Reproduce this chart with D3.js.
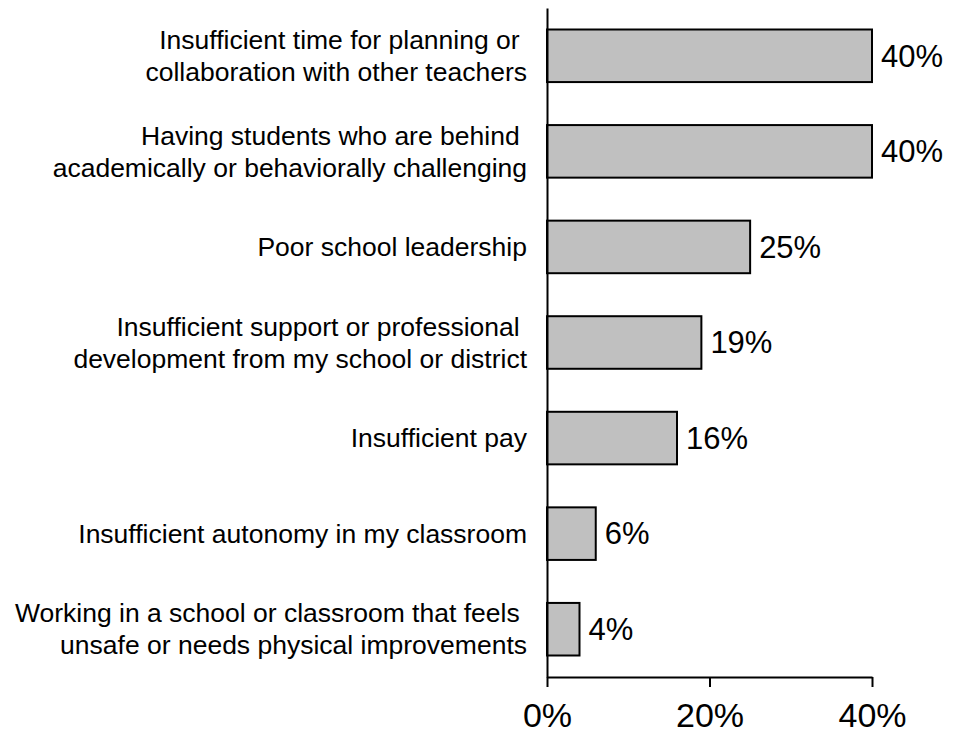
<!DOCTYPE html>
<html>
<head>
<meta charset="utf-8">
<script src="https://cdn.jsdelivr.net/npm/d3@7"></script>
<style>
  html, body { margin: 0; padding: 0; background: #fff; }
  svg { display: block; font-family: "Liberation Sans", Arial, sans-serif; }
</style>
</head>
<body>
<svg id="chart" width="961" height="735"></svg>
<script>
// Reasons cited (each label split into display lines)
const categories = [
  ["Insufficient time for planning or\u00a0", "collaboration with other teachers"],
  ["Having students who are behind\u00a0", "academically or behaviorally challenging"],
  ["Poor school leadership"],
  ["Insufficient support or professional\u00a0", "development from my school or district"],
  ["Insufficient pay"],
  ["Insufficient autonomy in my classroom"],
  ["Working in a school or classroom that feels\u00a0", "unsafe or needs physical improvements"]
];
const values = [40, 40, 25, 19, 16, 6, 4];
const tickValues = [0, 20, 40];

const svg = d3.select("#chart");
const x0 = 547, x1 = 872, yTop = 8, yBottom = 677;

const x = d3.scaleLinear().domain([0, 40]).range([x0, x1]);
const y = d3.scaleBand()
  .domain(d3.range(categories.length))
  .range([yTop, yBottom])
  .paddingInner(0.45)
  .paddingOuter(0.225);

// bars
svg.append("g").selectAll("rect")
  .data(values)
  .join("rect")
  .attr("x", x(0))
  .attr("y", (d, i) => y(i))
  .attr("width", d => x(d) - x(0))
  .attr("height", y.bandwidth())
  .attr("fill", "#c0c0c0")
  .attr("stroke", "#000")
  .attr("stroke-width", 2);

// value labels
svg.append("g").selectAll("text")
  .data(values)
  .join("text")
  .attr("x", d => x(d) + 9)
  .attr("y", (d, i) => y(i) + y.bandwidth() / 2)
  .attr("dy", "0.35em")
  .attr("font-size", 31)
  .attr("fill", "#000")
  .text(d => d + "%");

// category labels
const lineH = 32;
const cat = svg.append("g").selectAll("text")
  .data(categories)
  .join("text")
  .attr("text-anchor", "end")
  .attr("font-size", 26.5)
  .attr("fill", "#000")
  .attr("y", (d, i) => y(i) + y.bandwidth() / 2 - (d.length - 1) * lineH / 2);
cat.selectAll("tspan")
  .data(d => d)
  .join("tspan")
  .attr("x", 527)
  .attr("dy", (d, j) => j === 0 ? "0.35em" : lineH)
  .text(d => d);

// vertical axis line
svg.append("g")
  .attr("transform", `translate(${x0},0)`)
  .call(d3.axisLeft(y).tickSize(0).tickSizeOuter(0).tickFormat(""))
  .call(g => g.select(".domain").attr("stroke-width", 2))
  .call(g => g.selectAll(".tick").remove());

// bottom axis
svg.append("g")
  .attr("transform", `translate(0,${yBottom})`)
  .call(d3.axisBottom(x).tickValues(tickValues).tickSize(10).tickSizeOuter(0).tickFormat(d => d + "%"))
  .call(g => g.select(".domain").attr("stroke-width", 2))
  .call(g => g.selectAll(".tick line").attr("stroke-width", 2))
  .call(g => g.selectAll(".tick text")
    .attr("font-size", 34)
    .attr("font-family", "Liberation Sans, Arial, sans-serif")
    .attr("fill", "#000")
    .attr("y", 0)
    .attr("dy", 50));
</script>
</body>
</html>
